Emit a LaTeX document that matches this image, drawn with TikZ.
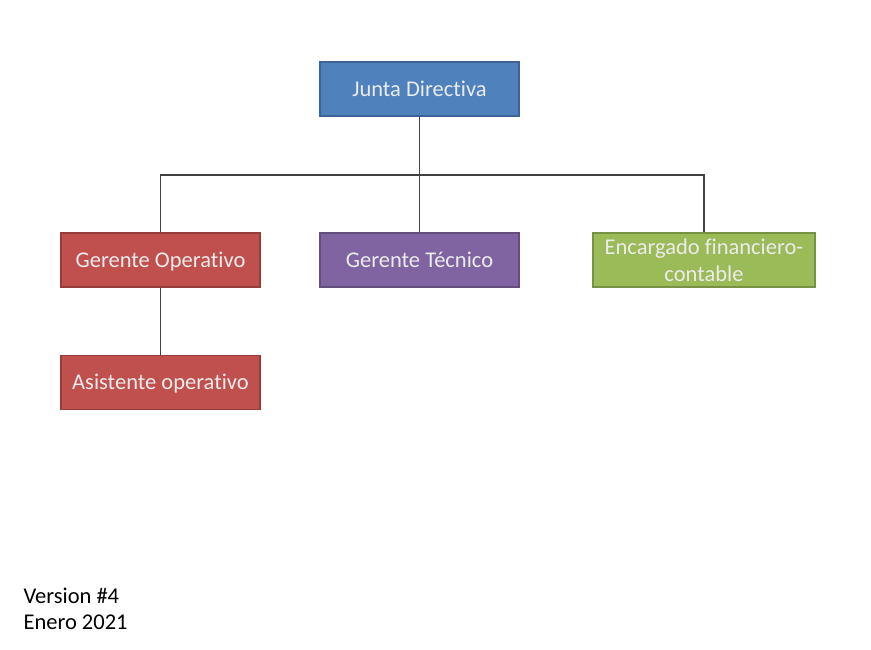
\documentclass[tikz,border=0pt]{standalone}
\usepackage{fontspec}
\setmainfont{Carlito}[Ligatures={NoCommon,NoContextual}]
\usetikzlibrary{positioning}
\definecolor{jBlue}{RGB}{79,129,189}
\definecolor{jBlueD}{RGB}{60,100,150}
\definecolor{gRed}{RGB}{192,80,77}
\definecolor{gRedD}{RGB}{150,60,58}
\definecolor{gPurple}{RGB}{128,100,162}
\definecolor{gPurpleD}{RGB}{100,78,128}
\definecolor{eGreen}{RGB}{155,187,89}
\definecolor{eGreenD}{RGB}{118,146,66}
\tikzset{
  orgbox/.style={rectangle, minimum width=199pt, minimum height=54pt, inner sep=2pt,
    text=white!92!black, align=center, line width=1.2pt, font=\fontsize{22.5}{27}\selectfont},
  oneline/.style={orgbox, text height=17pt, text depth=2pt},
  link/.style={draw=black!75, line width=1.3pt}
}
\begin{document}
\begin{tikzpicture}[x=1pt,y=-1pt]
        \useasboundingbox[fill=white] (0,0) rectangle (871,649);
        \node[oneline, fill=jBlue, draw=jBlueD] (junta) at (419.5,89) {Junta Directiva};
        \node[oneline, fill=gRed, draw=gRedD] (operativo) at (160.5,260) {Gerente Operativo};
        \node[oneline, fill=gPurple, draw=gPurpleD] (tecnico) at (419.5,260) {Gerente Técnico};
        \node[orgbox, fill=eGreen, draw=eGreenD, minimum width=222pt] (encargado) at (704,260) {Encargado financiero-\\contable};
        \node[oneline, fill=gRed, draw=gRedD, below=67pt of operativo] (asistente) {Asistente operativo};
        \coordinate (bus) at (419.5,175);
        \draw[link] (junta) -- (tecnico);
        \draw[link] (operativo.north) |- (bus) -| (encargado.north);
        \draw[link] (operativo) -- (asistente);
        \node[anchor=west, align=left, font=\fontsize{22.5}{26}\selectfont] (version) at (20,609) {Version \#4\\Enero 2021};
      \end{tikzpicture}
\end{document}
